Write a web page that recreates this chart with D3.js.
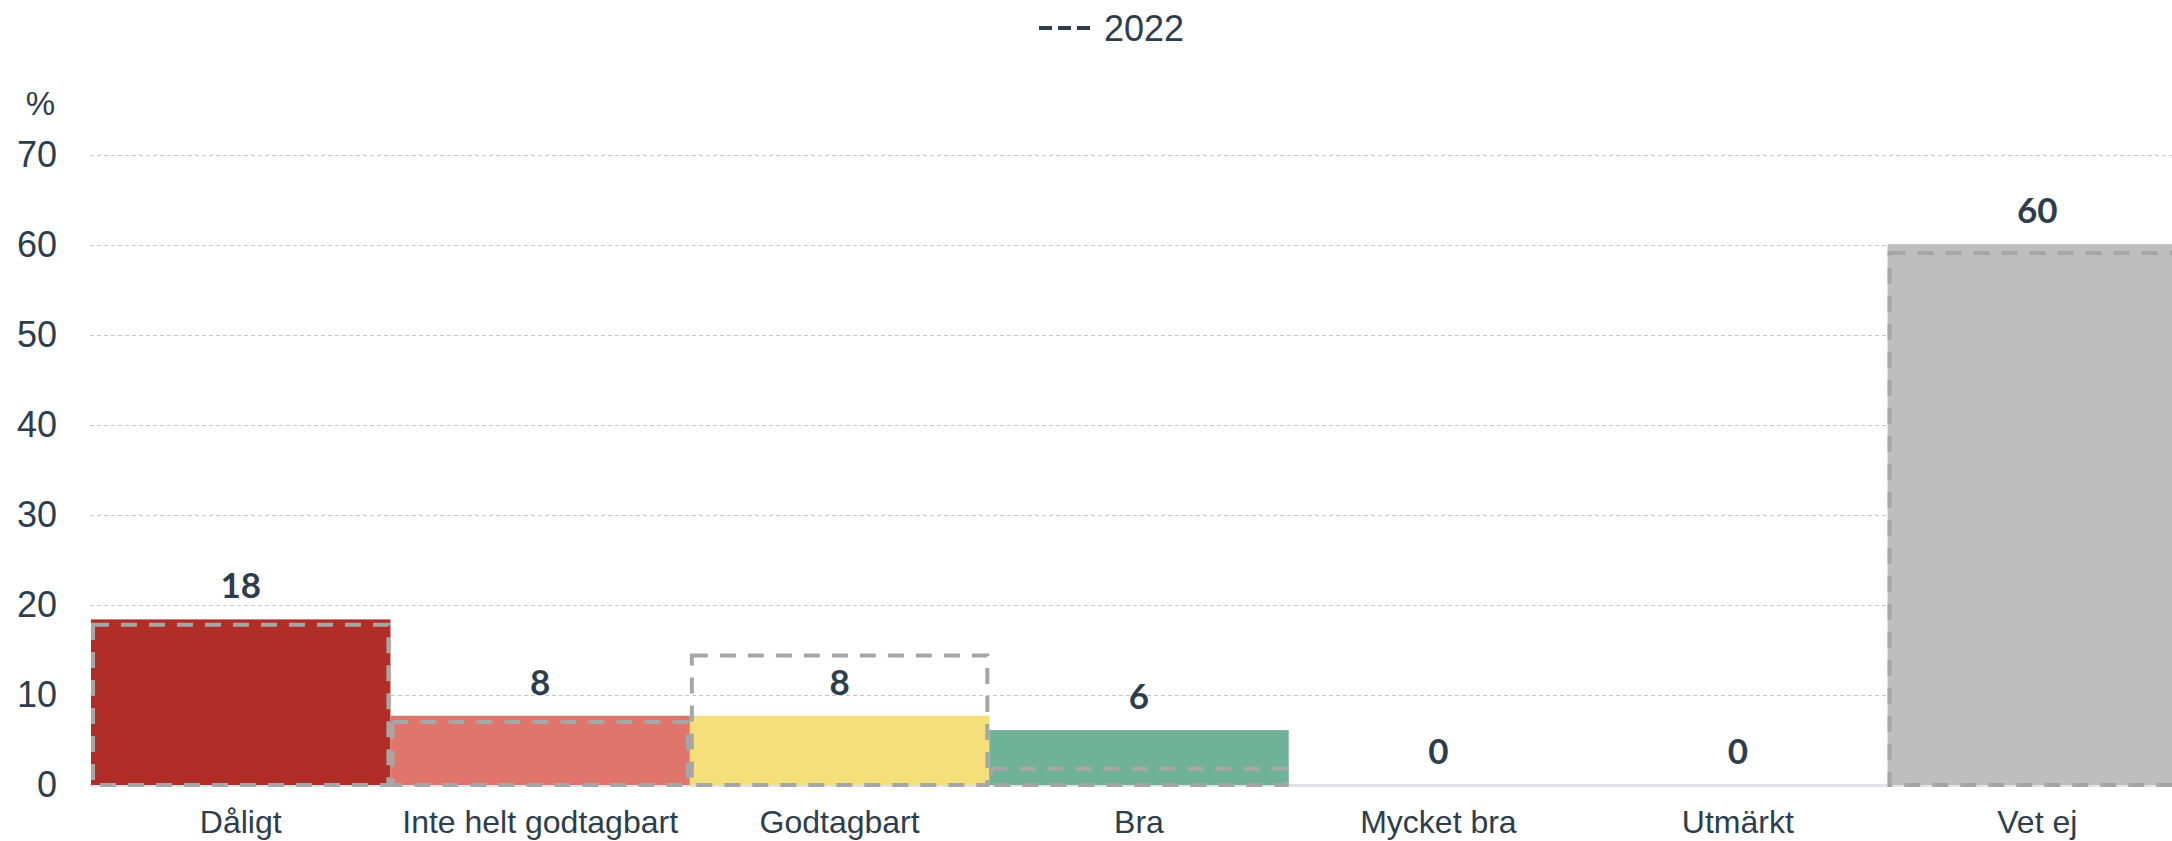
<!DOCTYPE html>
<html>
<head>
<meta charset="utf-8">
<script src="https://cdn.jsdelivr.net/npm/d3@7"></script>
<style>
  body { margin: 0; background: #fff; }
  text { font-family: "Liberation Sans", Arial, sans-serif; fill: #2E3D4C; }
</style>
</head>
<body>
<div id="canvas"></div>
<script>
/* DATA */
const categories = ["Dåligt", "Inte helt godtagbart", "Godtagbart", "Bra", "Mycket bra", "Utmärkt", "Vet ej"];
const values2023 = [18.4, 7.7, 7.7, 6.1, 0, 0, 60.1];
const labels2023 = ["18", "8", "8", "6", "0", "0", "60"];
const values2022 = [17.8, 7.0, 14.4, 1.8, 0, 0, 59.1];
const barColors = ["#B02E27", "#E0756C", "#F5DF7A", "#6FB297", "#6FB297", "#4E8C6E", "#BEBEBE"];
const yTicks = [0, 10, 20, 30, 40, 50, 60, 70];
const legendLabel = "2022";

/* CREATE THE SVG CANVAS */
const width = 2172;
const height = 841;

const svg = d3.select("#canvas")
    .append("svg")
    .attr("width", width)
    .attr("height", height);

/* SCALES */
const x = d3.scaleBand()
    .domain(categories)
    .range([91, 2187])
    .padding(0);

const y = d3.scaleLinear()
    .domain([0, 70])
    .range([785, 155]);

/* GRIDLINES AND Y AXIS */
const yAxis = svg.append("g")
    .attr("transform", "translate(90,0)")
    .call(d3.axisLeft(y).tickValues(yTicks).tickSize(-(width - 90)).tickPadding(33));

yAxis.select(".domain").remove();
yAxis.selectAll(".tick line")
    .attr("stroke", d => d === 0 ? "#DDE3E8" : "#C8C8C8")
    .attr("stroke-width", d => d === 0 ? 3 : 1)
    .attr("stroke-dasharray", d => d === 0 ? null : "4,3");
yAxis.selectAll(".tick text")
    .style("font-size", "36px")
    .style("fill", "#2E3D4C")
    .style("font-family", "'Liberation Sans', Arial, sans-serif");

svg.append("text")
    .attr("x", 55)
    .attr("y", 115)
    .attr("text-anchor", "end")
    .style("font-size", "33px")
    .text("%");

/* BARS */
svg.selectAll(".bar")
    .data(categories)
    .enter()
    .append("rect")
    .attr("class", "bar")
    .attr("x", d => x(d))
    .attr("width", x.bandwidth())
    .attr("y", (d, i) => y(values2023[i]))
    .attr("height", (d, i) => y(0) - y(values2023[i]))
    .attr("fill", (d, i) => barColors[i]);

/* 2022 DASHED OUTLINES */
svg.selectAll(".prev")
    .data(categories.filter((d, i) => values2022[i] > 0))
    .enter()
    .append("rect")
    .attr("class", "prev")
    .attr("x", d => x(d) + 2)
    .attr("width", x.bandwidth() - 4)
    .attr("y", d => y(values2022[categories.indexOf(d)]))
    .attr("height", d => y(0) - y(values2022[categories.indexOf(d)]))
    .attr("fill", "none")
    .attr("stroke", "#A6A6A6")
    .attr("stroke-width", 4)
    .attr("stroke-dasharray", "16,12");

/* VALUE LABELS */
svg.selectAll(".val")
    .data(categories)
    .enter()
    .append("text")
    .attr("class", "val")
    .attr("x", d => x(d) + x.bandwidth() / 2)
    .attr("y", (d, i) => y(values2023[i]) - 21)
    .attr("text-anchor", "middle")
    .style("font-family", "Lato, sans-serif")
    .style("font-weight", "bold")
    .style("font-size", "35px")
    .text((d, i) => labels2023[i]);

/* X AXIS LABELS */
svg.selectAll(".cat")
    .data(categories)
    .enter()
    .append("text")
    .attr("class", "cat")
    .attr("x", d => x(d) + x.bandwidth() / 2)
    .attr("y", 833)
    .attr("text-anchor", "middle")
    .style("font-size", "32px")
    .text(d => d);

/* LEGEND */
svg.append("line")
    .attr("x1", 1039)
    .attr("x2", 1091)
    .attr("y1", 28)
    .attr("y2", 28)
    .attr("stroke", "#2E3D4C")
    .attr("stroke-width", 4)
    .attr("stroke-dasharray", "13,6");

svg.append("text")
    .attr("x", 1104)
    .attr("y", 41)
    .style("font-size", "36px")
    .text(legendLabel);
</script>
</body>
</html>
